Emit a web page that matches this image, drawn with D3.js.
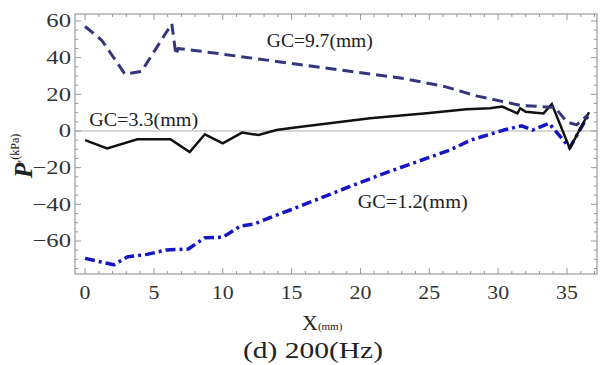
<!DOCTYPE html>
<html><head><meta charset="utf-8">
<script src="https://cdn.jsdelivr.net/npm/d3@7"></script>
<style>html,body{margin:0;padding:0;background:#fff;}svg{display:block;}</style>
</head><body>
<svg id="chart" width="606" height="365"></svg>
<script>
// ---- data ----
const gc97X = [0, 1.2, 2.9, 4.1, 6.3, 6.6, 6.75, 8.1, 22.9, 26, 28.5, 31.6, 33.8, 34.1, 35.0, 35.7, 36.5];
const gc97Y = [57, 49.6, 31, 32.5, 58.5, 41.5, 45, 43.8, 28.9, 24.5, 19, 14, 13, 13.1, 4.9, 3.3, 8.7];

const gc33X = [0, 1.6, 3.8, 6.2, 7.6, 8.7, 10.0, 11.4, 12.6, 13.9, 15.4, 20.7, 24.8, 27.7, 29.4, 30.3, 31.4, 31.6, 32.0, 33.3, 33.9, 35.2, 36.6];
const gc33Y = [-5, -9.5, -4.5, -4.5, -11.5, -1.8, -6.7, -0.9, -2.2, 0.5, 2, 6.9, 9.7, 11.8, 12.4, 13.3, 9.6, 12.4, 10.5, 9.6, 14.7, -9.5, 10.2];

const gc12X = [0, 2.1, 3.1, 4.5, 5.9, 7.5, 8.7, 10.0, 11.3, 12.3, 13.3, 14.9, 19.2, 21.4, 26.5, 28, 30.4, 31.7, 32.5, 33.7, 35.2, 36.5];
const gc12Y = [-69.5, -73, -68.6, -67.3, -64.9, -64.4, -58.2, -58, -51.8, -50.7, -47.6, -43.1, -30.4, -24, -10.4, -5, 0.5, 2.8, 0.5, 4.2, -9.2, 8];

const xTicks = [0, 5, 10, 15, 20, 25, 30, 35];
const yTicks = [-60, -40, -20, 0, 20, 40, 60];
const seriesLabels = ["GC=9.7(mm)", "GC=3.3(mm)", "GC=1.2(mm)"];
const labelPos = [[13.2, 45.8], [0.3, 2.8], [19.8, -42]]; // data coords of annotation text start
const caption = "(d) 200(Hz)";

// ---- layout ----
const svg = d3.select("#chart");
const L = 75, R = 597, T = 14, B = 274;
const x = d3.scaleLinear().domain([-0.73, 37.18]).range([L, R]);
const y = d3.scaleLinear().domain([-78, 63.8]).range([B, T]);
const serif = "'Liberation Serif','Times New Roman',serif";
const frameCol = "#9a9a9a";

// zero line
svg.append("line").attr("x1", L).attr("x2", R).attr("y1", y(0)).attr("y2", y(0))
  .attr("stroke", "#b0b0b0").attr("stroke-width", 1.2);

// frame
svg.append("rect").attr("x", L).attr("y", T).attr("width", R - L).attr("height", B - T)
  .attr("fill", "none").attr("stroke", frameCol).attr("stroke-width", 1.2);

// ticks (inward) on all four sides
const xMinor = d3.range(0, 38, 1);
const yMinor = d3.range(-75, 64, 5);
const tk = svg.append("g").attr("stroke", frameCol).attr("stroke-width", 1);
xMinor.forEach(v => {
  const len = (v % 5 === 0) ? 6 : 3;
  tk.append("line").attr("x1", x(v)).attr("x2", x(v)).attr("y1", B).attr("y2", B - len);
  tk.append("line").attr("x1", x(v)).attr("x2", x(v)).attr("y1", T).attr("y2", T + len);
});
yMinor.forEach(v => {
  const len = (v % 20 === 0) ? 6 : 3;
  tk.append("line").attr("y1", y(v)).attr("y2", y(v)).attr("x1", L).attr("x2", L + len);
  tk.append("line").attr("y1", y(v)).attr("y2", y(v)).attr("x1", R).attr("x2", R - len);
});

// tick labels
xTicks.forEach(v => {
  svg.append("text")
    .attr("transform", `translate(${x(v)},${B + 25}) scale(1.15,1)`)
    .attr("text-anchor", "middle").attr("font-family", serif).attr("font-size", 19)
    .attr("fill", "#333").text(String(v));
});
yTicks.forEach(v => {
  svg.append("text")
    .attr("transform", `translate(71,${y(v) + 6.5}) scale(1.3,1)`)
    .attr("text-anchor", "end").attr("font-family", serif).attr("font-size", 19)
    .attr("fill", "#333").text(v < 0 ? "\u2212" + Math.abs(v) : String(v));
});

// lines
const line = d3.line().x(d => x(d[0])).y(d => y(d[1]));
const zip = (a, b) => a.map((v, i) => [v, b[i]]);
svg.append("path").datum(zip(gc12X, gc12Y)).attr("d", line)
  .attr("fill", "none").attr("stroke", "#1515c4").attr("stroke-width", 3.5)
  .attr("stroke-dasharray", "10,4,3,4").attr("stroke-linejoin", "round");
svg.append("path").datum(zip(gc33X, gc33Y)).attr("d", line)
  .attr("fill", "none").attr("stroke", "#111").attr("stroke-width", 2.5)
  .attr("stroke-linejoin", "miter");
svg.append("path").datum(zip(gc97X, gc97Y)).attr("d", line)
  .attr("fill", "none").attr("stroke", "#35357e").attr("stroke-width", 3)
  .attr("stroke-dasharray", "11,6").attr("stroke-linejoin", "round");

// annotations
const annW = [106, 109, 110];
seriesLabels.forEach((t, i) => {
  svg.append("text").attr("x", x(labelPos[i][0])).attr("y", y(labelPos[i][1]))
    .attr("font-family", serif).attr("font-size", 18).attr("fill", "#222")
    .attr("textLength", annW[i]).attr("lengthAdjust", "spacingAndGlyphs").text(t);
});

// y axis label
const yl = svg.append("text").attr("transform", "translate(32,178) rotate(-90)")
  .attr("font-family", serif).attr("fill", "#222");
yl.append("tspan").attr("font-size", 25).attr("font-style", "italic").attr("font-weight", "bold").text("P");
yl.append("tspan").attr("font-size", 12).attr("dy", -13).text(",(kPa)");

// x axis label
const xl = svg.append("text").attr("x", 302).attr("y", 330).attr("font-family", serif).attr("fill", "#222");
xl.append("tspan").attr("font-size", 22).text("X");
xl.append("tspan").attr("font-size", 11).text("(mm)");

// caption
svg.append("text").attr("x", 313).attr("y", 358).attr("text-anchor", "middle")
  .attr("font-family", serif).attr("font-size", 24).attr("fill", "#222")
  .attr("textLength", 140).attr("lengthAdjust", "spacingAndGlyphs").text(caption);
</script>
</body></html>
